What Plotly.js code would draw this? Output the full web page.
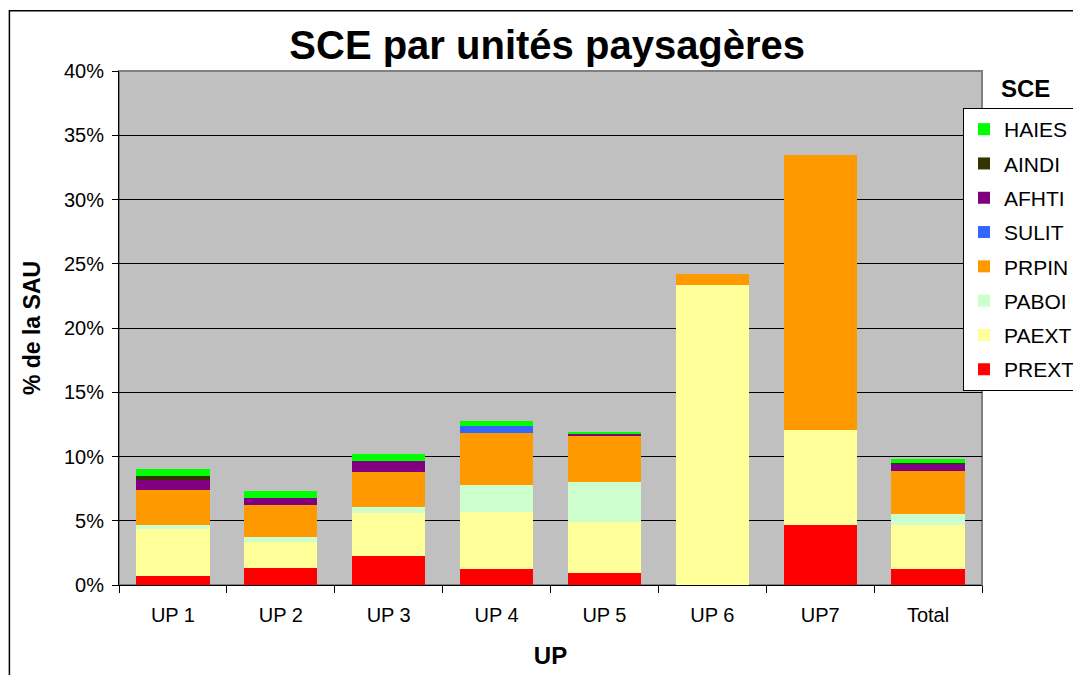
<!DOCTYPE html>
<html>
<head>
<meta charset="utf-8">
<script src="https://cdn.plot.ly/plotly-3.0.1.min.js"></script>
<style>
  html, body { margin: 0; padding: 0; background: #fff; }
  #chart { width: 1073px; height: 675px; }
</style>
</head>
<body>
<div id="chart"></div>
<script>
  var categories = ['UP 1', 'UP 2', 'UP 3', 'UP 4', 'UP 5', 'UP 6', 'UP7', 'Total'];

  // % de la SAU
  var PREXT = [0.70, 1.32, 2.26, 1.25, 0.93, 0.00, 4.67, 1.25];
  var PAEXT = [3.66, 2.05, 3.34, 4.45, 3.97, 23.35, 7.39, 3.42];
  var PABOI = [0.31, 0.37, 0.47, 2.08, 3.12, 0.00, 0.00, 0.86];
  var PRPIN = [2.72, 2.49, 2.72, 4.05, 3.60, 0.86, 21.40, 3.34];
  var SULIT = [0.00, 0.00, 0.00, 0.57, 0.00, 0.00, 0.00, 0.00];
  var AFHTI = [0.78, 0.54, 0.86, 0.00, 0.15, 0.00, 0.00, 0.55];
  var AINDI = [0.31, 0.00, 0.00, 0.00, 0.00, 0.00, 0.00, 0.05];
  var HAIES = [0.52, 0.54, 0.54, 0.39, 0.14, 0.00, 0.00, 0.36];

  var yTicks = [0, 5, 10, 15, 20, 25, 30, 35, 40];
  var yTickText = yTicks.map(function (v) { return v + '%'; });

  var font = 'Liberation Sans, Arial, sans-serif';

  function bar(name, vals, color, rank) {
    return {
      type: 'bar',
      name: name,
      x: categories,
      y: vals,
      legendgroup: name,
      legendrank: rank,
      marker: {color: color, line: {width: 0}},
      hoverinfo: 'name+y'
    };
  }

  var data = [
    bar('PREXT', PREXT, '#FF0000', 8),
    bar('PAEXT', PAEXT, '#FFFF99', 7),
    bar('PABOI', PABOI, '#CCFFCC', 6),
    bar('PRPIN', PRPIN, '#FF9900', 5),
    bar('SULIT', SULIT, '#3366FF', 4),
    bar('AFHTI', AFHTI, '#800080', 3),
    bar('AINDI', AINDI, '#333300', 2),
    bar('HAIES', HAIES, '#00FF00', 1)
  ];

  var layout = {
    width: 1073,
    height: 675,
    margin: {l: 119, r: 91, t: 71, b: 90, autoexpand: false},
    paper_bgcolor: '#ffffff',
    plot_bgcolor: '#C0C0C0',
    barmode: 'stack',
    bargap: 0.32,
    font: {family: font, size: 20, color: '#000'},
    title: {
      text: '<b>SCE par unités paysagères</b>',
      font: {family: font, size: 40, color: '#000'},
      x: 0.51, xanchor: 'center',
      y: 0.933, yanchor: 'middle'
    },
    xaxis: {
      type: 'category',
      showline: true, linecolor: '#000', linewidth: 1,
      ticks: 'outside', ticklen: 7, tickcolor: '#000',
      tickson: 'boundaries',
      ticklabelstandoff: 12,
      showgrid: false,
      tickfont: {family: font, size: 20},
      title: {text: '<b>UP</b>', font: {family: font, size: 24}, standoff: 22}
    },
    yaxis: {
      range: [0, 40],
      tickmode: 'array',
      tickvals: yTicks,
      ticktext: yTickText,
      showline: true, linecolor: '#000', linewidth: 1,
      ticks: 'outside', ticklen: 6, tickcolor: '#000',
      ticklabelstandoff: 4,
      showgrid: true, gridcolor: '#000', gridwidth: 1,
      zeroline: false,
      tickfont: {family: font, size: 20},
      title: {text: '<b>% de la SAU</b>', font: {family: font, size: 23}, standoff: 16}
    },
    legend: {
      xref: 'container', yref: 'container',
      x: 0.8975, xanchor: 'left',
      y: 0.84, yanchor: 'top',
      bgcolor: '#ffffff',
      bordercolor: '#000', borderwidth: 1,
      traceorder: 'grouped',
      tracegroupgap: 4,
      font: {family: font, size: 21, color: '#000'}
    },
    annotations: [{
      text: '<b>SCE</b>',
      xref: 'paper', yref: 'paper',
      x: 1.05, y: 0.966,
      xanchor: 'center', yanchor: 'middle',
      showarrow: false,
      font: {family: font, size: 24, color: '#000'}
    }],
    shapes: [
      {
        type: 'rect', xref: 'paper', yref: 'paper',
        x0: 0, x1: 1, y0: 0, y1: 1,
        line: {color: '#808080', width: 2},
        layer: 'below'
      },
      {
        type: 'rect', xref: 'paper', yref: 'paper',
        x0: -0.127, x1: 1.2, y0: -0.3, y1: 1.117,
        line: {color: '#000', width: 1.5},
        layer: 'above'
      }
    ],
    showlegend: true
  };

  Plotly.newPlot('chart', data, layout, {displayModeBar: false, staticPlot: true});
</script>
</body>
</html>
